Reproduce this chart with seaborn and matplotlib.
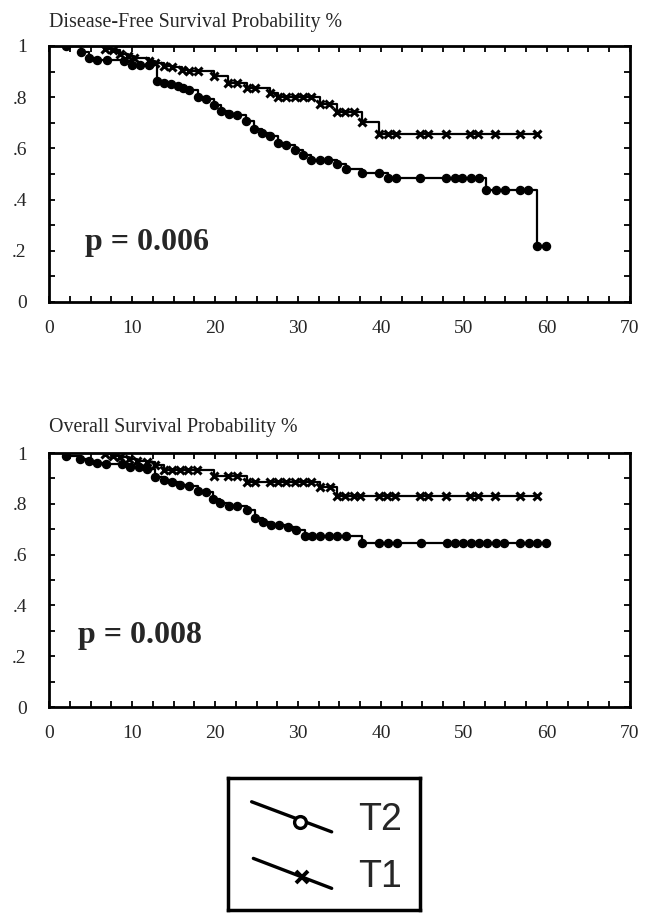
import numpy as np
import pandas as pd
import matplotlib
matplotlib.use('Agg')
import matplotlib.pyplot as plt
from matplotlib.ticker import MultipleLocator, FixedLocator
import seaborn as sns

# 无病生存 (Disease-Free Survival)，第一个点 (0, 1) 只画线不画标记
dfs_t2_time = [0, 2.0, 3.8, 4.8, 5.8, 7.0, 9.0, 10.0, 11.0, 12.0, 13.0, 13.9, 14.7, 15.5, 16.1,
               16.9, 17.9, 18.9, 19.9, 20.7, 21.7, 22.6, 23.7, 24.7, 25.7, 26.6, 27.6, 28.6,
               29.6, 30.6, 31.6, 32.6, 33.6, 34.7, 35.8, 37.7, 39.7, 40.9, 41.8, 44.7, 47.8,
               48.9, 49.8, 50.8, 51.8, 52.7, 53.8, 54.9, 56.7, 57.7, 58.8, 59.9]
dfs_t2_surv = [1.0, 1.0, 0.975, 0.955, 0.945, 0.945, 0.94, 0.925, 0.925, 0.925, 0.862, 0.855,
               0.851, 0.845, 0.836, 0.829, 0.80, 0.793, 0.769, 0.747, 0.734, 0.730, 0.708,
               0.676, 0.660, 0.647, 0.621, 0.613, 0.595, 0.576, 0.556, 0.553, 0.553, 0.540,
               0.520, 0.503, 0.503, 0.485, 0.485, 0.485, 0.485, 0.485, 0.485, 0.485, 0.485,
               0.438, 0.438, 0.438, 0.438, 0.438, 0.219, 0.219]

dfs_t1_time = [0, 6.8, 7.7, 8.6, 9.5, 10.3, 12.0, 12.8, 13.8, 14.8, 16.0, 16.9, 17.9, 19.9,
               21.6, 22.6, 23.8, 24.8, 26.6, 27.6, 28.6, 29.6, 30.6, 31.6, 32.6, 33.7, 34.7,
               35.7, 36.7, 37.7, 39.7, 40.8, 41.8, 44.7, 45.7, 47.8, 50.7, 51.7, 53.7, 56.7, 58.8]
dfs_t1_surv = [1.0, 0.99, 0.985, 0.97, 0.96, 0.952, 0.943, 0.935, 0.922, 0.918, 0.906, 0.903,
               0.903, 0.881, 0.857, 0.857, 0.834, 0.834, 0.818, 0.799, 0.799, 0.799, 0.799,
               0.799, 0.773, 0.773, 0.741, 0.741, 0.741, 0.702, 0.655, 0.655, 0.655, 0.655,
               0.655, 0.655, 0.655, 0.655, 0.655, 0.655, 0.655]

# 总生存 (Overall Survival)
os_t2_time = [0, 2.0, 3.7, 4.8, 5.8, 6.9, 8.8, 9.8, 10.8, 11.8, 12.8, 13.8, 14.8, 15.8, 16.9,
              17.9, 18.9, 19.8, 20.6, 21.7, 22.7, 23.8, 24.8, 25.8, 26.7, 27.7, 28.8, 29.7,
              30.8, 31.7, 32.7, 33.7, 34.7, 35.8, 37.7, 39.8, 40.9, 41.9, 44.8, 47.9, 48.9,
              49.9, 50.9, 51.8, 52.8, 53.8, 54.8, 56.8, 57.8, 58.8, 59.9]
os_t2_surv = [1.0, 0.99, 0.977, 0.97, 0.962, 0.957, 0.957, 0.946, 0.946, 0.936, 0.906, 0.894,
              0.887, 0.874, 0.87, 0.852, 0.848, 0.82, 0.805, 0.79, 0.79, 0.776, 0.745, 0.728,
              0.718, 0.718, 0.71, 0.697, 0.675, 0.675, 0.675, 0.675, 0.675, 0.675, 0.647,
              0.647, 0.647, 0.647, 0.647, 0.647, 0.647, 0.647, 0.647, 0.647, 0.647, 0.647,
              0.647, 0.647, 0.647, 0.647, 0.647]

os_t1_time = [0, 6.8, 7.7, 8.6, 9.6, 10.6, 11.8, 12.8, 13.8, 14.8, 15.8, 16.8, 17.8, 19.9,
              21.6, 22.6, 23.8, 24.8, 26.6, 27.6, 28.6, 29.6, 30.6, 31.6, 32.7, 33.8, 34.7,
              35.7, 36.7, 37.5, 39.7, 40.7, 41.7, 44.7, 45.7, 47.8, 50.7, 51.7, 53.7, 56.7, 58.8]
os_t1_surv = [1.0, 0.995, 0.99, 0.985, 0.975, 0.97, 0.966, 0.953, 0.933, 0.933, 0.933, 0.933,
              0.933, 0.911, 0.911, 0.911, 0.887, 0.887, 0.887, 0.887, 0.887, 0.887, 0.887,
              0.887, 0.865, 0.865, 0.829, 0.829, 0.829, 0.829, 0.829, 0.829, 0.829, 0.829,
              0.829, 0.829, 0.829, 0.829, 0.829, 0.829, 0.829]

y_ticks = [0, 0.2, 0.4, 0.6, 0.8, 1.0]
y_tick_labels = ['0', '.2', '.4', '.6', '.8', '1']
group_labels = ['T2', 'T1']

sns.set_style('ticks')
plt.rcParams['font.family'] = ['Liberation Serif', 'DejaVu Serif']

fig = plt.figure(figsize=(6.47, 9.13), dpi=100)
ax1 = fig.add_axes([49 / 647, 1 - 302 / 913, 581 / 647, 256 / 913])
ax2 = fig.add_axes([49 / 647, 1 - 707 / 913, 581 / 647, 254 / 913])


def draw_curve(ax, t, s, marker, ms, mew):
    sns.lineplot(x=t, y=s, ax=ax, color='black', lw=1.6, drawstyle='steps-post',
                 estimator=None, sort=False, marker=marker, markersize=ms,
                 markeredgewidth=mew, markeredgecolor='black', markerfacecolor='black',
                 markevery=slice(1, None))


def style_axes(ax):
    ax.set_xlim(0, 70)
    ax.set_ylim(0, 1)
    ax.xaxis.set_major_locator(MultipleLocator(10))
    ax.xaxis.set_minor_locator(MultipleLocator(2.5))
    ax.yaxis.set_major_locator(FixedLocator(y_ticks))
    ax.yaxis.set_minor_locator(MultipleLocator(0.1))
    ax.set_yticklabels(y_tick_labels)
    ax.tick_params(which='both', direction='in', top=True, right=True,
                   length=4, width=1.3, color='black')
    ax.tick_params(axis='x', which='major', labelsize=14, pad=13)
    ax.tick_params(axis='y', which='major', labelsize=14, pad=16)
    ax.set_xlabel('')
    ax.set_ylabel('')
    for sp in ax.spines.values():
        sp.set_linewidth(2)
        sp.set_color('black')


draw_curve(ax1, dfs_t2_time, dfs_t2_surv, 'o', 5.8, 1)
draw_curve(ax1, dfs_t1_time, dfs_t1_surv, 'x', 5.5, 2.2)
style_axes(ax1)
ax1.text(4.3, 0.234, 'p = 0.006', fontsize=23, fontweight='bold', va='center')

draw_curve(ax2, os_t2_time, os_t2_surv, 'o', 5.8, 1)
draw_curve(ax2, os_t1_time, os_t1_surv, 'x', 5.5, 2.2)
style_axes(ax2)
ax2.text(3.5, 0.283, 'p = 0.008', fontsize=23, fontweight='bold', va='center')

fig.text(49 / 647, 1 - 22 / 913, 'Disease-Free Survival Probability %', fontsize=14.4,
         va='center', ha='left')
fig.text(49 / 647, 1 - 427 / 913, 'Overall Survival Probability %', fontsize=14.4,
         va='center', ha='left')

# 图例：斜线加标记
lax = fig.add_axes([228 / 647, 1 - 910 / 913, 192 / 647, 132 / 913])
lax.set_xlim(0, 1)
lax.set_ylim(0, 1)
lax.set_xticks([])
lax.set_yticks([])
for sp in lax.spines.values():
    sp.set_linewidth(2.5)
    sp.set_color('black')
lax.plot([0.123, 0.54], [0.82, 0.592], color='black', lw=2.4)
lax.plot([0.375], [0.669], marker='o', ms=8.5, mew=2.4, mec='black', mfc='white')
lax.plot([0.132, 0.54], [0.391, 0.164], color='black', lw=2.4)
lax.plot([0.384], [0.247], marker='x', ms=9, mew=2.8, color='black')
lax.text(0.677, 0.68, group_labels[0], fontsize=27, va='center', ha='left',
         family=['Liberation Sans', 'DejaVu Sans'])
lax.text(0.677, 0.25, group_labels[1], fontsize=27, va='center', ha='left',
         family=['Liberation Sans', 'DejaVu Sans'])

fig.savefig('out.png', dpi=100, facecolor='white')
